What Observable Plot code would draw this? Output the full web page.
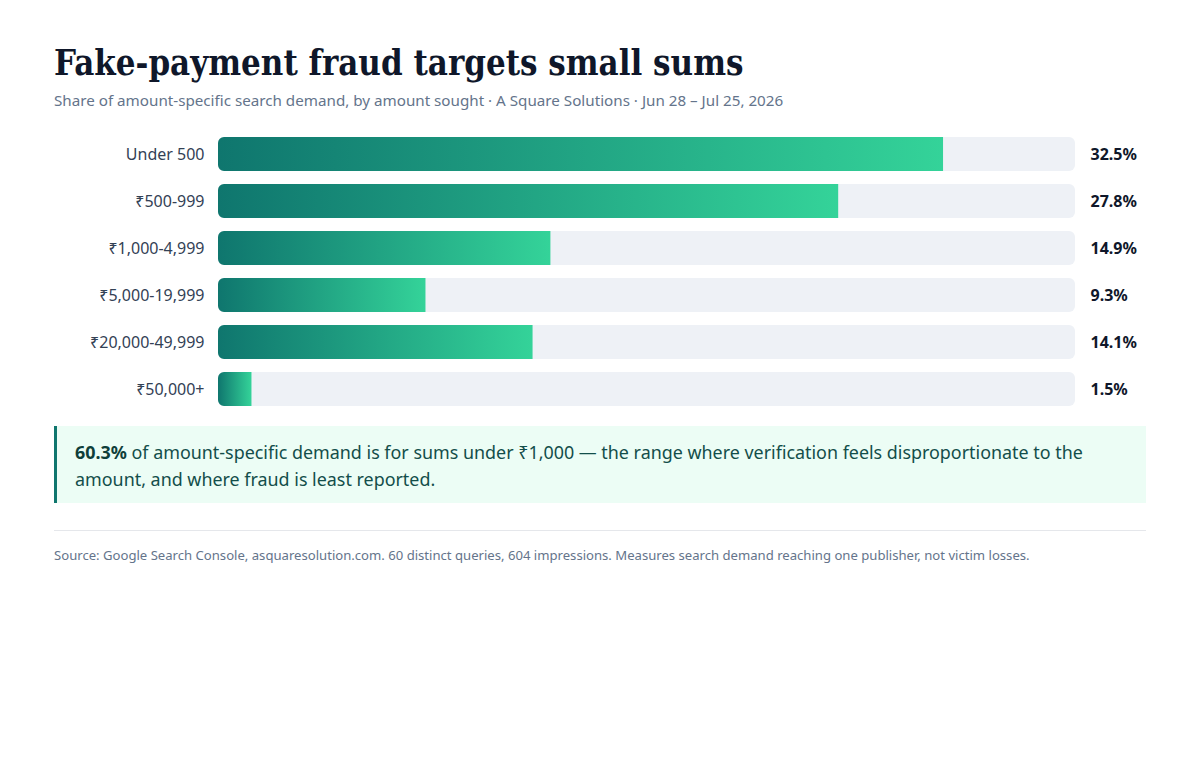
<!DOCTYPE html>
<html>
<head>
<meta charset="utf-8">
<script src="https://cdn.jsdelivr.net/npm/d3@7"></script>
<script src="https://cdn.jsdelivr.net/npm/@observablehq/plot@0.6"></script>
<style>
  html, body { margin: 0; padding: 0; background: #fff; }
  body { font-family: "Noto Sans", sans-serif; }
  .abs { position: absolute; left: 54px; width: 1092px; }
  h1 { font-family: "DejaVu Serif Condensed", "DejaVu Serif", serif; font-stretch: condensed; font-weight: 700; font-size: 34.5px; color: #0f172a; margin: 0; line-height: 34px; top: 46px; white-space: nowrap; }
  .sub { font-size: 15.2px; color: #64748b; line-height: 22px; top: 89px; }
  #chart { top: 123px; height: 296px; }
  .callout { top: 426px; box-sizing: border-box; height: 77px; background: #ecfdf5; border-left: 3px solid #0f766e; padding: 13px 20px 10px 18px; font-size: 17.9px; line-height: 27px; color: #134e4a; }
  .callout b { color: #0f3f3a; }
  .rule { top: 530px; height: 0; border-top: 1px solid #e5e7eb; }
  .src { top: 546px; font-size: 13.12px; line-height: 18px; color: #64748b; }
</style>
</head>
<body>
  <h1 class="abs">Fake-payment fraud targets small sums</h1>
  <div class="abs sub">Share of amount-specific search demand, by amount sought · A Square Solutions · Jun 28 – Jul 25, 2026</div>
  <div class="abs" id="chart"></div>
  <div class="abs callout"><b>60.3%</b> of amount-specific demand is for sums under ₹1,000 — the range where verification feels disproportionate to the amount, and where fraud is least reported.</div>
  <div class="abs rule"></div>
  <div class="abs src">Source: Google Search Console, asquaresolution.com. 60 distinct queries, 604 impressions. Measures search demand reaching one publisher, not victim losses.</div>
<script>
const categories = ["Under 500", "₹500-999", "₹1,000-4,999", "₹5,000-19,999", "₹20,000-49,999", "₹50,000+"];
const shares = [32.5, 27.8, 14.9, 9.3, 14.1, 1.5];

const xMax = d3.max(shares) * 1.182;
const data = categories.map((c, i) => ({ category: c, share: shares[i], full: xMax }));

const plot = Plot.plot({
  width: 1092,
  height: 296,
  marginLeft: 164,
  marginRight: 71,
  marginTop: 0,
  marginBottom: 0,
  style: { fontFamily: "Noto Sans, sans-serif", background: "transparent", overflow: "visible" },
  x: { domain: [0, xMax], axis: null },
  y: { domain: categories, padding: 0.277, axis: null },
  marks: [
    Plot.barX(data, { y: "category", x: "full", fill: "#eef1f6", rx: 6, className: "track" }),
    Plot.barX(data, { y: "category", x: "share", fill: "url(#barGrad)", className: "fillbar" }),
    Plot.text(data, { y: "category", x: 0, text: "category", textAnchor: "end", dx: -14, fontSize: 16, fill: "#334155" }),
    Plot.text(data, { y: "category", x: "full", text: d => d.share.toFixed(1) + "%", textAnchor: "start", dx: 15, fontSize: 16, fontWeight: 700, fill: "#0f172a" })
  ]
});
document.getElementById("chart").appendChild(plot);

// gradient + clip definitions
const svg = d3.select(plot);
const defs = svg.insert("defs", ":first-child");
const grad = defs.append("linearGradient").attr("id", "barGrad").attr("x1", 0).attr("x2", 1).attr("y1", 0).attr("y2", 0);
grad.append("stop").attr("offset", "0%").attr("stop-color", "#0f766e");
grad.append("stop").attr("offset", "100%").attr("stop-color", "#34d399");
const clip = defs.append("clipPath").attr("id", "trackClip");
svg.selectAll("g.track rect").each(function () { clip.node().appendChild(this.cloneNode(true)); });
svg.select("g.fillbar").attr("clip-path", "url(#trackClip)");
</script>
</body>
</html>
